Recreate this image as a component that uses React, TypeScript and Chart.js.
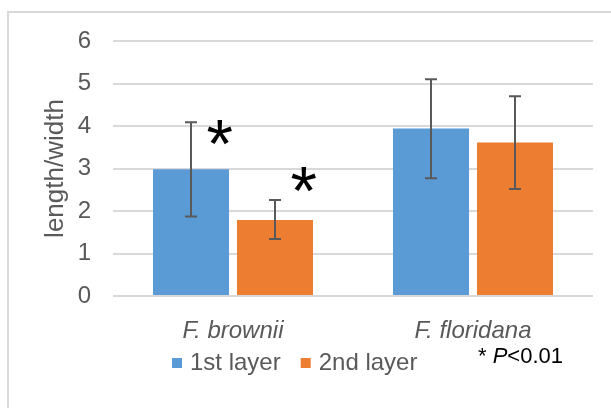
import React, { useEffect, useRef } from "react";
import { Chart, registerables } from "chart.js";

Chart.register(...registerables);

const categories = ["F. brownii", "F. floridana"];
const seriesLabels = ["1st layer", "2nd layer"];
const seriesColors = ["#5B9BD5", "#ED7D31"];
const firstLayer = [2.98, 3.94];
const secondLayer = [1.79, 3.61];
const firstLayerLow = [1.87, 2.77];
const firstLayerHigh = [4.09, 5.1];
const secondLayerLow = [1.34, 2.52];
const secondLayerHigh = [2.26, 4.7];
const firstLayerStars = [3.84, null];
const secondLayerStars = [2.74, null];
const yMin = 0;
const yMax = 6;
const yStep = 1;
const yTitle = "length/width";
const noteStar = "* ";
const noteP = "P";
const noteRest = "<0.01";

const FONT = "'Liberation Sans', Arial, sans-serif";
const GRAY = "#595959";

const framePlugin = {
  id: "frame",
  beforeDraw(chart: any) {
    const ctx = chart.ctx;
    ctx.save();
    ctx.fillStyle = "#ffffff";
    ctx.fillRect(0, 0, chart.width, chart.height);
    ctx.strokeStyle = "#d9d9d9";
    ctx.lineWidth = 2;
    ctx.strokeRect(8, 12, chart.width + 40, chart.height + 40);
    ctx.restore();
  },
};

const errorBarPlugin = {
  id: "errorBars",
  afterDatasetsDraw(chart: any) {
    const ctx = chart.ctx;
    const yScale = chart.scales.y;
    ctx.save();
    ctx.strokeStyle = GRAY;
    ctx.lineWidth = 2;
    chart.data.datasets.forEach((ds: any, i: number) => {
      const meta = chart.getDatasetMeta(i);
      meta.data.forEach((bar: any, j: number) => {
        const lo = yScale.getPixelForValue(ds.errLow[j]);
        const hi = yScale.getPixelForValue(ds.errHigh[j]);
        const x = Math.round(bar.x);
        ctx.beginPath();
        ctx.moveTo(x, hi);
        ctx.lineTo(x, lo);
        ctx.moveTo(x - 6, hi);
        ctx.lineTo(x + 6, hi);
        ctx.moveTo(x - 6, lo);
        ctx.lineTo(x + 6, lo);
        ctx.stroke();
      });
    });
    ctx.restore();
  },
};

const starPlugin = {
  id: "stars",
  afterDatasetsDraw(chart: any) {
    const ctx = chart.ctx;
    const yScale = chart.scales.y;
    ctx.save();
    ctx.fillStyle = "#000000";
    ctx.font = `68px ${FONT}`;
    ctx.textAlign = "left";
    ctx.textBaseline = "alphabetic";
    chart.data.datasets.forEach((ds: any, i: number) => {
      const meta = chart.getDatasetMeta(i);
      meta.data.forEach((bar: any, j: number) => {
        const v = ds.stars[j];
        if (v === null || v === undefined) return;
        const cx = bar.x + bar.width * 0.38;
        const cy = yScale.getPixelForValue(v);
        const m = ctx.measureText("*");
        const inkW = m.actualBoundingBoxRight + m.actualBoundingBoxLeft;
        const x = cx - inkW / 2 + m.actualBoundingBoxLeft;
        const y = cy + (m.actualBoundingBoxAscent - m.actualBoundingBoxDescent) / 2;
        ctx.fillText("*", x, y);
      });
    });
    ctx.restore();
  },
};

const legendPlugin = {
  id: "customLegend",
  afterDraw(chart: any) {
    const ctx = chart.ctx;
    ctx.save();
    ctx.font = `24px ${FONT}`;
    ctx.textBaseline = "middle";
    ctx.textAlign = "left";
    const cy = 363;
    let x = 172;
    chart.data.datasets.forEach((ds: any) => {
      ctx.fillStyle = ds.backgroundColor;
      ctx.fillRect(x, cy - 5, 10, 10);
      x += 10 + 8;
      ctx.fillStyle = GRAY;
      ctx.fillText(ds.label, x, cy);
      x += ctx.measureText(ds.label).width + 20;
    });
    // significance note
    ctx.fillStyle = "#000000";
    ctx.textBaseline = "alphabetic";
    let nx = 478;
    const by = 363;
    ctx.font = `22px ${FONT}`;
    ctx.fillText(noteStar, nx, by);
    nx += ctx.measureText(noteStar).width;
    ctx.font = `italic 22px ${FONT}`;
    ctx.fillText(noteP, nx, by);
    nx += ctx.measureText(noteP).width;
    ctx.font = `22px ${FONT}`;
    ctx.fillText(noteRest, nx, by);
    ctx.restore();
  },
};

export default function App() {
  const ref = useRef<HTMLCanvasElement | null>(null);

  useEffect(() => {
    document.body.style.margin = "0";
    const canvas = ref.current;
    if (!canvas) return;
    const chart = new Chart(canvas, {
      type: "bar",
      data: {
        labels: categories,
        datasets: [
          {
            label: seriesLabels[0],
            data: firstLayer,
            backgroundColor: seriesColors[0],
            errLow: firstLayerLow,
            errHigh: firstLayerHigh,
            stars: firstLayerStars,
          } as any,
          {
            label: seriesLabels[1],
            data: secondLayer,
            backgroundColor: seriesColors[1],
            errLow: secondLayerLow,
            errHigh: secondLayerHigh,
            stars: secondLayerStars,
          } as any,
        ],
      },
      options: {
        responsive: false,
        animation: false,
        devicePixelRatio: 1,
        layout: { padding: { left: 8, right: 18, top: 41, bottom: 0 } },
        datasets: {
          bar: { categoryPercentage: 0.7, barPercentage: 0.905 },
        },
        plugins: {
          legend: { display: false },
          tooltip: { enabled: false },
        },
        scales: {
          x: {
            grid: { display: false },
            border: { display: false },
            ticks: {
              color: GRAY,
              padding: 13,
              font: { family: FONT, size: 24, style: "italic" },
            },
            afterFit: (s: any) => {
              s.height = 112;
            },
          },
          y: {
            min: yMin,
            max: yMax,
            ticks: {
              stepSize: yStep,
              color: GRAY,
              padding: 22,
              font: { family: FONT, size: 24 },
            },
            grid: { color: "#d9d9d9", lineWidth: 2, drawTicks: false },
            border: { display: false },
            title: {
              display: true,
              text: yTitle,
              color: GRAY,
              padding: { top: 32, bottom: 0 },
              font: { family: FONT, size: 26 },
            },
            afterFit: (s: any) => {
              s.width = 105;
            },
          },
        },
      },
      plugins: [framePlugin, errorBarPlugin, starPlugin, legendPlugin],
    });
    return () => chart.destroy();
  }, []);

  return (
    <div style={{ position: "absolute", left: 0, top: 0, width: 611, height: 408 }}>
      <canvas ref={ref} width={611} height={408} style={{ display: "block" }} />
    </div>
  );
}
